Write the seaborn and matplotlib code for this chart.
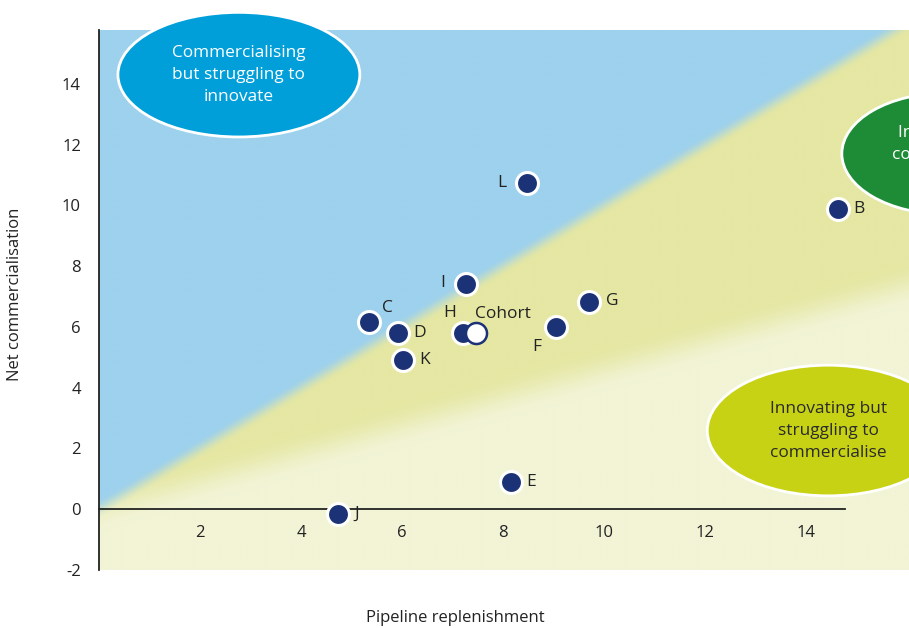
import numpy as np
import pandas as pd
import seaborn as sns
import matplotlib.pyplot as plt
from matplotlib.patches import Ellipse

# company scores
companies = ['L', 'B', 'I', 'G', 'C', 'D', 'H', 'F', 'K', 'E', 'J']
pipeline = [8.48, 14.63, 7.27, 9.70, 5.35, 5.92, 7.21, 9.05, 6.02, 8.16, 4.73]
net_comm = [10.72, 9.87, 7.41, 6.82, 6.16, 5.80, 5.80, 6.00, 4.92, 0.89, -0.16]

cohort_name = 'Cohort'
cohort_pipeline = [7.47]
cohort_net_comm = [5.80]

x_ticks = [2, 4, 6, 8, 10, 12, 14]
y_ticks = [-2, 0, 2, 4, 6, 8, 10, 12, 14]

# label offsets in pixels (dx, dy), dy positive = up
label_offsets = {
    'L': (-25, 0), 'B': (21, 0), 'I': (-23, 1), 'G': (23, 1),
    'C': (18, 14), 'D': (22, 0), 'H': (-13, 20), 'F': (-19, -20),
    'K': (22, 0), 'E': (20, 0), 'J': (19, 0), 'Cohort': (27, 19),
}

NAVY = '#1b3276'
BLUE_BG = np.array([157, 209, 237]) / 255
BAND_BG = np.array([229, 231, 163]) / 255
PALE_BG = np.array([242, 244, 214]) / 255

sns.set_style('white')
plt.rcParams['font.family'] = ['Open Sans', 'DejaVu Sans']

fig = plt.figure(figsize=(9.09, 6.28), dpi=100)
ax = fig.add_axes([99 / 909, 58 / 628, 810 / 909, 540 / 628])

xmin, xmax = 0, 16.04
ymin, ymax = -2, 15.77
px_x, px_y = 50.5, 30.5  # pixels per data unit

# background zones: blue above y=x, yellow band, pale below
gx = np.linspace(xmin, xmax, 900)
gy = np.linspace(ymin, ymax, 600)
GX, GY = np.meshgrid(gx, gy)
PX, PY = GX * px_x, GY * px_y


def smooth(d, w):
    t = np.clip((d + w) / (2 * w), 0, 1)
    return t * t * (3 - 2 * t)


def signed_dist(slope):
    dx, dy = px_x, slope * px_y
    return (PY * dx - PX * dy) / np.hypot(dx, dy)


w_blue = smooth(signed_dist(1.0), 9)
w_band = smooth(signed_dist(0.46), 22)
rgb = PALE_BG * (1 - w_band[..., None]) + BAND_BG * w_band[..., None]
rgb = rgb * (1 - w_blue[..., None]) + BLUE_BG * w_blue[..., None]
ax.imshow(rgb, extent=[xmin, xmax, ymin, ymax], origin='lower',
          aspect='auto', zorder=0, interpolation='bilinear')

# quadrant bubbles: centre, width, height, colour, text, text colour,
# text shift (x, y), clip
bubbles = [
    ((2.77, 14.3), 4.79, 4.1, '#009fda',
     'Commercialising\nbut struggling to\ninnovate', 'white', (0.0, 0.0), False),
    ((16.79, 11.7), 4.16, 4.0, '#1e8c37',
     'Innovating and\ncommercialising\n', 'white', (0.22, -0.05), True),
    ((14.44, 2.59), 4.79, 4.3, '#c8d214',
     'Innovating but\nstruggling to\ncommercialise', '#2a2a2a', (0.0, 0.0), True),
]
for center, w, h, fc, txt, tc, shift, clip in bubbles:
    ax.add_patch(Ellipse(center, w, h, facecolor=fc, edgecolor='white',
                         linewidth=2, zorder=2, clip_on=clip))
    ax.text(center[0] + shift[0], center[1] + shift[1], txt,
            ha='center', va='center', color=tc, fontsize=12.4,
            linespacing=1.5, zorder=3, clip_on=clip)

df = pd.DataFrame({'company': companies, 'pipeline': pipeline,
                   'net_comm': net_comm})
cohort_df = pd.DataFrame({'company': [cohort_name],
                          'pipeline': cohort_pipeline,
                          'net_comm': cohort_net_comm})

sns.scatterplot(data=df, x='pipeline', y='net_comm', color=NAVY, s=250,
                edgecolor='white', linewidth=2.2, ax=ax, zorder=4)
sns.scatterplot(data=cohort_df, x='pipeline', y='net_comm', color='white',
                s=230, edgecolor=NAVY, linewidth=1.8, ax=ax, zorder=5)

for _, row in pd.concat([df, cohort_df]).iterrows():
    dx, dy = label_offsets[row['company']]
    ax.annotate(row['company'], (row['pipeline'], row['net_comm']),
                xytext=(dx * 0.72, dy * 0.72), textcoords='offset points',
                ha='center', va='center', fontsize=12.5, color='#222222',
                zorder=6)

ax.set_xlim(xmin, xmax)
ax.set_ylim(ymin, ymax)
ax.set_xticks(x_ticks)
ax.set_yticks(y_ticks)
ax.set_xticklabels([str(t) for t in x_ticks])
ax.set_yticklabels([str(t) for t in y_ticks])
ax.tick_params(axis='x', length=0, pad=11, labelsize=12, labelcolor='#222222')
ax.tick_params(axis='y', length=0, pad=13, labelsize=12, labelcolor='#222222')

for side in ['top', 'right']:
    ax.spines[side].set_visible(False)
ax.spines['bottom'].set_position(('data', 0))
ax.spines['bottom'].set_bounds(0, 14.77)
ax.spines['bottom'].set_zorder(3)
for side in ['bottom', 'left']:
    ax.spines[side].set_color('#222222')
    ax.spines[side].set_linewidth(1.3)

ax.set_xlabel('Pipeline replenishment', fontsize=12, color='#222222')
ax.set_ylabel('Net commercialisation', fontsize=12, color='#222222')
ax.xaxis.set_label_coords(0.44, -0.074)
ax.yaxis.set_label_coords(-0.094, 0.51)

fig.savefig('out.png', dpi=100)
